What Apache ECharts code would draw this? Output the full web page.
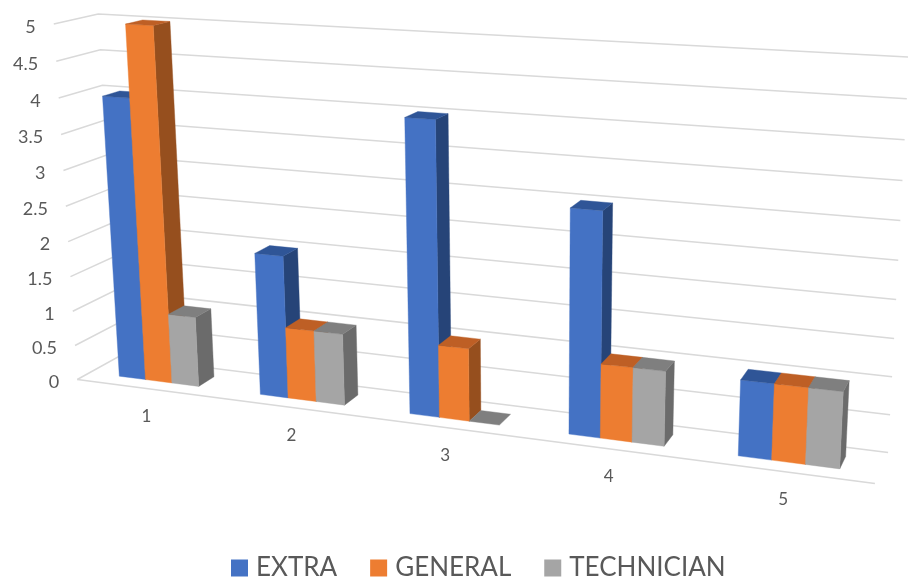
<!DOCTYPE html>
<html>
<head>
<meta charset="utf-8">
<style>html,body{margin:0;padding:0;background:#fff}#c{width:908px;height:579px}</style>
<script src="https://cdn.jsdelivr.net/npm/echarts@6/dist/echarts.min.js"></script>
</head>
<body>
<div id="c"></div>
<script>
const categories = ['1', '2', '3', '4', '5'];
const yTicks = [0, 0.5, 1, 1.5, 2, 2.5, 3, 3.5, 4, 4.5, 5];
const extra = [4, 2, 4, 3, 1];
const general = [5, 1, 1, 1, 1];
const technician = [1, 1, 0, 1, 1];
const seriesNames = ['EXTRA', 'GENERAL', 'TECHNICIAN'];
const seriesValues = [extra, general, technician];
const faceColors = [
  { front: '#4472C4', top: '#2F5597', side: '#264478' },
  { front: '#ED7D31', top: '#BE5F25', side: '#964F1E' },
  { front: '#A5A5A5', top: '#7F7F7F', side: '#6B6B6B' }
];
const gridColor = '#D9D9D9';
const textColor = '#595959';
const tickFont = 'Lato';

// Camera: where corners of the unit box (across, up, depth) land on the page.
const camera = [
  [[0, 0, 0], [77, 380]], [[0, 1, 0], [54, 24]],
  [[0, 0, 1], [119, 356]], [[0, 1, 1], [98, 14]],
  [[1, 0, 1], [888, 453]], [[1, 1, 1], [909, 57]],
  [[1, 0, 0], [875, 483]]
];
const barDepth = [0.30, 0.70];
const barSpan = 0.57;

function solve(A, b) {
  const n = b.length, M = A.map((r, i) => r.concat(b[i]));
  for (let i = 0; i < n; i++) {
    let p = i;
    for (let k = i + 1; k < n; k++) if (Math.abs(M[k][i]) > Math.abs(M[p][i])) p = k;
    [M[i], M[p]] = [M[p], M[i]];
    for (let k = 0; k < n; k++) {
      if (k === i) continue;
      const f = M[k][i] / M[i][i];
      for (let j = i; j <= n; j++) M[k][j] -= f * M[i][j];
    }
  }
  return M.map((r, i) => r[n] / r[i]);
}
function fitCamera(pairs) {
  const rows = [], rhs = [];
  pairs.forEach(([[x, y, z], [sx, sy]]) => {
    rows.push([x, y, z, 1, 0, 0, 0, 0, -sx * x, -sx * y, -sx * z]); rhs.push(sx);
    rows.push([0, 0, 0, 0, x, y, z, 1, -sy * x, -sy * y, -sy * z]); rhs.push(sy);
  });
  const n = 11, A = [], b = [];
  for (let i = 0; i < n; i++) {
    A.push([]);
    for (let j = 0; j < n; j++) A[i].push(rows.reduce((s, r) => s + r[i] * r[j], 0));
    b.push(rows.reduce((s, r, k) => s + r[i] * rhs[k], 0));
  }
  return solve(A, b);
}
const m = fitCamera(camera);
function project(x, y, z) {
  const w = m[8] * x + m[9] * y + m[10] * z + 1;
  return [(m[0] * x + m[1] * y + m[2] * z + m[3]) / w, (m[4] * x + m[5] * y + m[6] * z + m[7]) / w];
}

// Unit-box coordinates come from the hidden cartesian axes.
function unitX(api, params, px) { return (px - params.coordSys.x) / params.coordSys.width; }
function unitY(api, params, value) {
  const py = api.coord([0, value])[1];
  return (params.coordSys.y + params.coordSys.height - py) / params.coordSys.height;
}

function poly(pts, fill) {
  return { type: 'polygon', shape: { points: pts }, style: { fill: fill, stroke: fill, lineWidth: 0.4 } };
}

function renderBar(seriesIndex) {
  return function (params, api) {
    const cat = api.value(0), val = api.value(1);
    const band = api.size([1, 0])[0];
    const cx = api.coord([cat, 0])[0];
    const w = band * barSpan / 3;
    const x0 = unitX(api, params, cx - band * barSpan / 2 + seriesIndex * w);
    const x1 = unitX(api, params, cx - band * barSpan / 2 + (seriesIndex + 1) * w);
    const y0 = unitY(api, params, 0), y1 = unitY(api, params, val);
    const z0 = barDepth[0], z1 = barDepth[1];
    const c = faceColors[seriesIndex];
    const kids = [];
    if (val > 0) {
      kids.push(poly([project(x1, y0, z0), project(x1, y1, z0), project(x1, y1, z1), project(x1, y0, z1)], c.side));
      kids.push(poly([project(x0, y0, z0), project(x0, y1, z0), project(x1, y1, z0), project(x1, y0, z0)], c.front));
    }
    kids.push(poly([project(x0, y1, z0), project(x0, y1, z1), project(x1, y1, z1), project(x1, y1, z0)], c.top));
    return { type: 'group', children: kids };
  };
}

function renderWalls(params, api) {
  const v = api.value(0), y = unitY(api, params, v);
  const kids = [{
    type: 'polyline',
    shape: { points: [project(0, y, 0), project(0, y, 1), project(1, y, 1)] },
    style: { stroke: gridColor, lineWidth: 1.5, fill: 'none' }
  }];
  if (v === 0) {
    kids.push({
      type: 'line',
      shape: { x1: project(0, 0, 0)[0], y1: project(0, 0, 0)[1], x2: project(1, 0, 0)[0], y2: project(1, 0, 0)[1] },
      style: { stroke: gridColor, lineWidth: 1.5 }
    });
  }
  const p = project(0, y, 0);
  kids.push({
    type: 'text', x: p[0] - 18, y: p[1] + 3,
    style: { text: String(v), fill: textColor, font: '18px ' + tickFont, textAlign: 'right', textVerticalAlign: 'middle' }
  });
  return { type: 'group', children: kids };
}

function renderCatLabel(params, api) {
  const cx = unitX(api, params, api.coord([api.value(0), 0])[0]);
  const p = project(cx, unitY(api, params, 0), 0);
  return {
    type: 'text', x: p[0], y: p[1] + 28,
    style: { text: categories[api.value(0)], fill: textColor, font: '17px ' + tickFont, textAlign: 'center', textVerticalAlign: 'middle' }
  };
}

const chart = echarts.init(document.getElementById('c'), null, { renderer: 'canvas' });
const series = [
  { type: 'custom', name: 'walls', silent: true, clip: false, data: yTicks.map(v => [v]), renderItem: renderWalls, encode: { y: 0 } },
  { type: 'custom', name: 'labels', silent: true, clip: false, data: categories.map((c, i) => [i]), renderItem: renderCatLabel, encode: { x: 0 } }
];
seriesNames.forEach((name, s) => {
  series.push({
    type: 'custom', name: name, clip: false,
    itemStyle: { color: faceColors[s].front },
    data: seriesValues[s].map((v, i) => [i, v]),
    renderItem: renderBar(s), encode: { x: 0, y: 1 }
  });
});
chart.setOption({
  animation: false,
  backgroundColor: '#fff',
  grid: { left: 0, right: 0, top: 0, bottom: 0 },
  xAxis: { type: 'category', data: categories, show: false },
  yAxis: { type: 'value', min: 0, max: 5, interval: 0.5, show: false },
  legend: {
    data: seriesNames, left: 231, top: 555, padding: 0, icon: 'rect',
    itemWidth: 17, itemHeight: 17, itemGap: 33,
    textStyle: { color: textColor, fontFamily: 'Lato', fontSize: 26, padding: [0, 0, 0, 3] }
  },
  series: series
});
</script>
</body>
</html>
